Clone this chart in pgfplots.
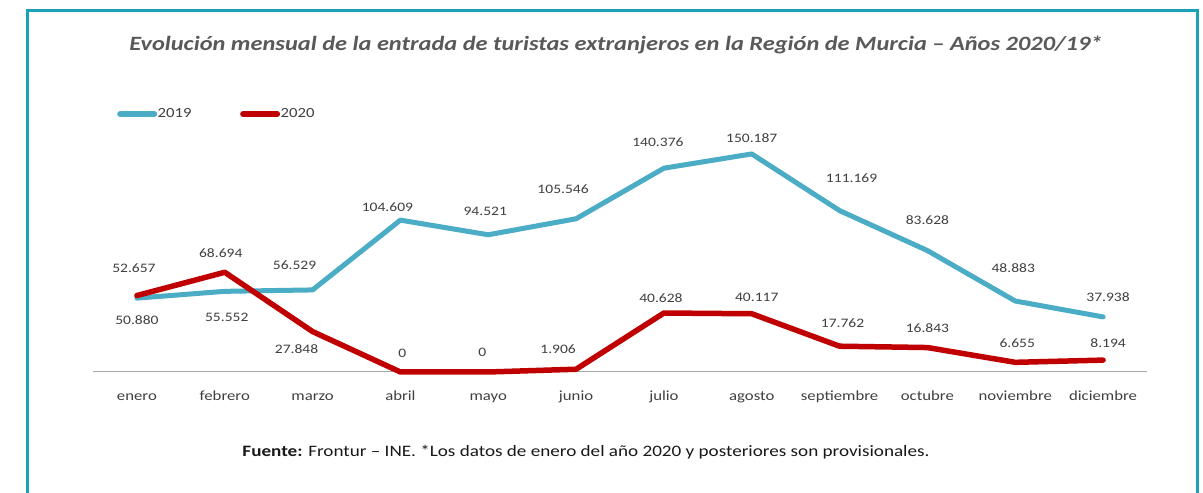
\documentclass[border=0pt]{standalone}
\usepackage{pgfplots}
\pgfplotsset{compat=1.18}
\usepackage{pgfplotstable}
\usepackage{fontspec}
\setmainfont{Carlito}[FakeStretch=1.2]
\definecolor{frame}{HTML}{1BA1B5}
\definecolor{c19}{HTML}{4BACC6}
\definecolor{c20}{HTML}{C00000}
\definecolor{lab}{HTML}{404040}
\definecolor{ttl}{HTML}{595959}

\pgfplotstableread{
x y dx dy lab
0 50880 0 -22 50.880
1 55552 2 -26 55.552
2 56529 -18 25 56.529
3 104609 -13 13 104.609
4 94521 -3 23 94.521
5 105546 -13 30 105.546
6 140376 -6 26 140.376
7 150187 0 16 150.187
8 111169 12 32 111.169
9 83628 0 30 83.628
10 48883 -2 33 48.883
11 37938 5 20 37.938
}\tabA

\pgfplotstableread{
x y dx dy lab
0 52657 -3 27 52.657
1 68694 -4 19 68.694
2 27848 -16 -18 27.848
3 0 2 19 0
4 0 -6 20 0
5 1906 -18 20 1.906
6 40628 -3 15 40.628
7 40117 5 16 40.117
8 17762 3 23 17.762
9 16843 0 19 16.843
10 6655 2 19 6.655
11 8194 5 17 8.194
}\tabB

\begin{document}
\begin{tikzpicture}
\useasboundingbox (0,0) rectangle (1203bp,493bp);
\fill[white] (0,0) rectangle (1203bp,493bp);
\draw[frame, line width=3bp] (27bp,-10bp) -- (27bp,482bp) -- (1197bp,482bp) -- (1197bp,-10bp);
\node[text=ttl, font=\fontsize{20.4}{24}\selectfont\bfseries\itshape] at (616bp,448bp) {Evolución mensual de la entrada de turistas extranjeros en la Región de Murcia – Años 2020/19*};
\begin{axis}[
  at={(93bp,121bp)}, anchor=south west,
  scale only axis, width=1054bp, height=232.3bp,
  xmin=-0.5, xmax=11.5, ymin=0, ymax=160000,
  axis x line=bottom, axis y line=none,
  axis line style={-, draw=black!35, line width=1bp},
  xtick={0,...,11},
  xticklabels={enero,febrero,marzo,abril,mayo,junio,julio,agosto,septiembre,octubre,noviembre,diciembre},
  major tick length=0pt,
  xticklabel style={anchor=base, yshift=-28.5bp, font=\fontsize{14}{16}\selectfont, text=lab},
  clip=false,
  legend style={at={(0.0228,1.1106)}, anchor=west, draw=none, fill=none, inner sep=0pt,
    font=\fontsize{14}{16}\selectfont, text=lab, nodes={inner sep=0.5bp},
    /tikz/every even column/.append style={column sep=48bp}},
  legend columns=2,
  legend image code/.code={\draw[line width=6bp, line cap=round] (3bp,0bp) -- (37bp,0bp);},
  every node near coord/.append style={font=\fontsize{13}{15}\selectfont, text=lab},
]
\addlegendimage{c19}
\addlegendentry{2019}
\addlegendimage{c20}
\addlegendentry{2020}
\addplot[forget plot, c19, line width=5bp, line join=round, line cap=round,
  point meta=explicit symbolic,
  visualization depends on={\thisrow{dx}\as\dx},
  visualization depends on={\thisrow{dy}\as\dy},
  nodes near coords, nodes near coords align={anchor=center},
  every node near coord/.append style={xshift=\dx*1bp, yshift=\dy*1bp}]
  table[x=x, y=y, meta=lab]{\tabA};
\addplot[forget plot, c20, line width=5.5bp, line join=round, line cap=round,
  point meta=explicit symbolic,
  visualization depends on={\thisrow{dx}\as\dx},
  visualization depends on={\thisrow{dy}\as\dy},
  nodes near coords, nodes near coords align={anchor=center},
  every node near coord/.append style={xshift=\dx*1bp, yshift=\dy*1bp}]
  table[x=x, y=y, meta=lab]{\tabB};
\end{axis}
\node[text=black!90, font=\fontsize{16}{18}\selectfont] at (586bp,41bp) {\textbf{Fuente:} Frontur – INE. *Los datos de enero del año 2020 y posteriores son provisionales.};
\end{tikzpicture}
\end{document}
